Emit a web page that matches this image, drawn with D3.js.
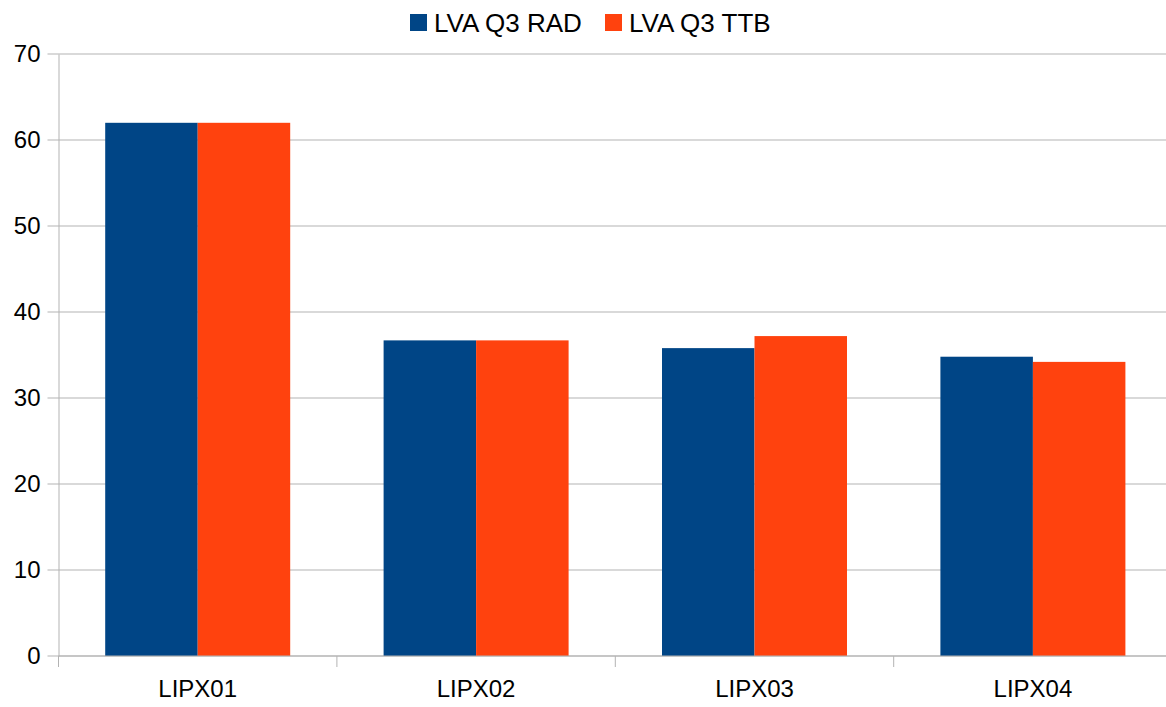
<!DOCTYPE html>
<html>
<head>
<meta charset="utf-8">
<script src="https://cdn.jsdelivr.net/npm/d3@7"></script>
<style>
  body { margin: 0; background: #fff; overflow: hidden; }
  svg { font-family: "Liberation Sans", Arial, sans-serif; }
</style>
</head>
<body>
<svg id="chart" width="1166" height="707"></svg>
<script>
const RAD = "#004586";
const TTB = "#ff420e";
const GRID = "#b3b3b3";

const categories = ["LIPX01", "LIPX02", "LIPX03", "LIPX04"];
const seriesNames = ["LVA Q3 RAD", "LVA Q3 TTB"];
const radValues = [62.0, 36.7, 35.8, 34.8];
const ttbValues = [62.0, 36.7, 37.2, 34.2];
const yTicks = [0, 10, 20, 30, 40, 50, 60, 70];

var svg = d3.select("#chart"),
  margin = { top: 54, bottom: 51, left: 58.5 },
  // the plot area runs a little past the right edge of the picture
  width = 1113.6,
  height = +svg.attr("height") - margin.top - margin.bottom,
  g = svg.append("g")
    .attr("transform", "translate(" + margin.left + "," + margin.top + ")");

var data = categories.map(function(c, i) {
  return { cat: c, values: [radValues[i], ttbValues[i]] };
});

var x0 = d3.scaleBand().domain(categories).range([0, width]).paddingInner(0.3355).paddingOuter(0.16775);
var xOuter = d3.scaleBand().domain(categories).range([0, width]);
var x1 = d3.scaleBand().domain([0, 1]).range([0, x0.bandwidth()]);
var y = d3.scaleLinear().domain([0, 70]).range([height, 0]);

// gridlines
g.append("g")
  .selectAll("line")
  .data(yTicks)
  .enter()
  .append("line")
  .attr("x1", -11)
  .attr("x2", width)
  .attr("y1", function(d) { return y(d); })
  .attr("y2", function(d) { return y(d); })
  .attr("stroke", GRID)
  .attr("stroke-width", 1);

// bars
var groups = g.append("g")
  .selectAll("g")
  .data(data)
  .enter()
  .append("g")
  .attr("transform", function(d) { return "translate(" + x0(d.cat) + ",0)"; });

groups.selectAll("rect")
  .data(function(d) { return d.values; })
  .enter()
  .append("rect")
  .attr("x", function(d, i) { return x1(i); })
  .attr("y", function(d) { return y(d); })
  .attr("width", x1.bandwidth())
  .attr("height", function(d) { return height - y(d); })
  .attr("fill", function(d, i) { return i === 0 ? RAD : TTB; });

// y axis
var yAxis = g.append("g")
  .call(d3.axisLeft(y).tickValues(yTicks).tickSize(0).tickPadding(18));
yAxis.select(".domain").attr("stroke", GRID);
yAxis.selectAll("text")
  .attr("font-size", 24)
  .attr("font-family", "Liberation Sans, Arial, sans-serif")
  .attr("fill", "#000");

// x axis
var xAxis = g.append("g")
  .attr("transform", "translate(0," + height + ")")
  .call(d3.axisBottom(xOuter).tickSize(0).tickPadding(24));
xAxis.select(".domain").remove();
xAxis.selectAll("text")
  .attr("font-size", 24)
  .attr("font-family", "Liberation Sans, Arial, sans-serif")
  .attr("fill", "#000");

// category boundary ticks
var bounds = categories.map(function(c) { return xOuter(c); }).concat([width]);
g.append("g")
  .selectAll("line")
  .data(bounds)
  .enter()
  .append("line")
  .attr("x1", function(d) { return d; })
  .attr("x2", function(d) { return d; })
  .attr("y1", height)
  .attr("y2", height + 11)
  .attr("stroke", GRID);

g.append("line")
  .attr("x1", 0).attr("x2", width)
  .attr("y1", height).attr("y2", height)
  .attr("stroke", GRID);

// legend
var legendX = [410, 605];
var legend = svg.append("g")
  .selectAll("g")
  .data(seriesNames)
  .enter()
  .append("g")
  .attr("transform", function(d, i) { return "translate(" + legendX[i] + ",14)"; });

legend.append("rect")
  .attr("width", 17)
  .attr("height", 17)
  .attr("fill", function(d, i) { return i === 0 ? RAD : TTB; });

legend.append("text")
  .attr("x", 24)
  .attr("y", 9)
  .attr("dy", "0.35em")
  .attr("font-size", 26)
  .attr("fill", "#000")
  .text(function(d) { return d; });
</script>
</body>
</html>
